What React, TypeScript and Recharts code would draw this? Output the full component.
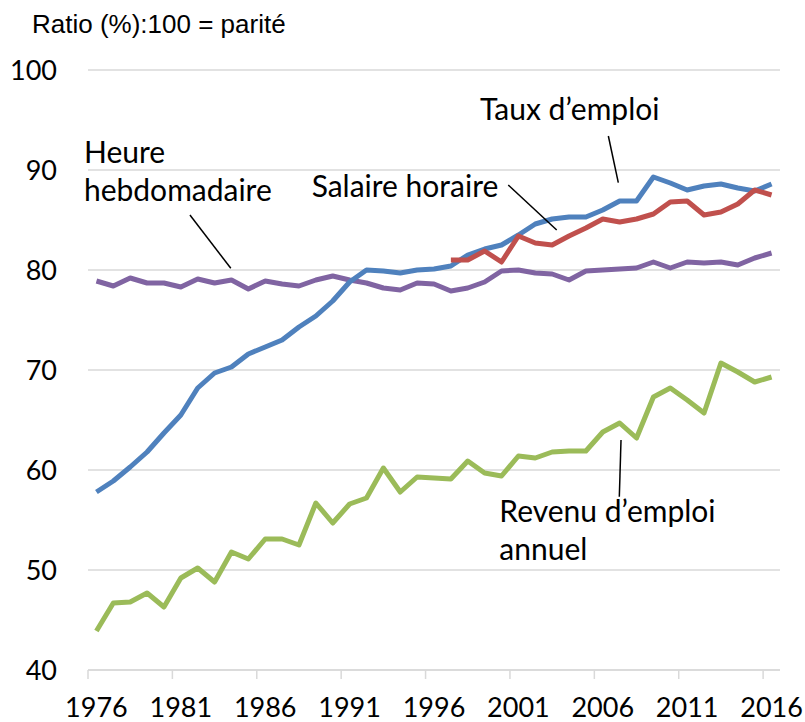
import { LineChart, Line, XAxis, YAxis, CartesianGrid, ReferenceLine, ReferenceDot } from "recharts";

const years = [
  1976, 1977, 1978, 1979, 1980, 1981, 1982, 1983, 1984, 1985, 1986, 1987, 1988, 1989,
  1990, 1991, 1992, 1993, 1994, 1995, 1996, 1997, 1998, 1999, 2000, 2001, 2002, 2003,
  2004, 2005, 2006, 2007, 2008, 2009, 2010, 2011, 2012, 2013, 2014, 2015, 2016,
];

const tauxEmploi = [
  57.8, 58.9, 60.3, 61.8, 63.7, 65.5, 68.2, 69.7, 70.3, 71.6, 72.3, 73.0,
  74.3, 75.4, 76.9, 78.8, 80.0, 79.9, 79.7, 80.0,
  80.1, 80.4, 81.5, 82.1, 82.5, 83.5, 84.6, 85.1, 85.3, 85.3, 86.0, 86.9, 86.9,
  89.3, 88.7, 88.0, 88.4, 88.6, 88.2, 87.9, 88.6,
];

const salaireHoraire = [
  null, null, null, null, null, null, null, null, null, null, null, null, null, null,
  null, null, null, null, null, null, null,
  81.0, 81.0, 81.9, 80.8, 83.4, 82.7, 82.5, 83.4, 84.2, 85.1, 84.8, 85.1, 85.6,
  86.8, 86.9, 85.5, 85.8, 86.6, 88.0, 87.5,
];

const heureHebdo = [
  78.9, 78.4, 79.2, 78.7, 78.7, 78.3, 79.1, 78.7, 79.0, 78.1, 78.9, 78.6, 78.4,
  79.0, 79.4, 79.0, 78.7, 78.2, 78.0, 78.7,
  78.6, 77.9, 78.2, 78.8, 79.9, 80.0, 79.7, 79.6, 79.0, 79.9, 80.0, 80.1, 80.2,
  80.8, 80.2, 80.8, 80.7, 80.8, 80.5, 81.2, 81.7,
];

const revenuEmploi = [
  43.9, 46.7, 46.8, 47.7, 46.3, 49.2, 50.2, 48.8, 51.8, 51.1, 53.1, 53.1, 52.5,
  56.7, 54.7, 56.6, 57.2, 60.2, 57.8, 59.3,
  59.2, 59.1, 60.9, 59.7, 59.4, 61.4, 61.2, 61.8, 61.9, 61.9, 63.8, 64.7, 63.2,
  67.3, 68.2, 67.0, 65.7, 70.7, 69.8, 68.8, 69.3,
];

const xTicks = [1976, 1981, 1986, 1991, 1996, 2001, 2006, 2011, 2016];
const yTicks = [40, 50, 60, 70, 80, 90, 100];

// annotation text: left x and first baseline y, in data units
const annotations = [
  { x: 1975.26, y: 90.7, lines: ["Heure", "hebdomadaire"] },
  { x: 1988.75, y: 87.33, lines: ["Salaire horaire"] },
  { x: 1998.73, y: 95.0, lines: ["Taux d’emploi"] },
  { x: 1999.87, y: 54.83, lines: ["Revenu d’emploi", "annuel"] },
];

const leaders = [
  [{ x: 1981.54, y: 85.5 }, { x: 1983.96, y: 80.17 }],
  [{ x: 2000.4, y: 88.5 }, { x: 2003.27, y: 84.0 }],
  [{ x: 2006.33, y: 93.4 }, { x: 2006.92, y: 88.73 }],
  [{ x: 2007.08, y: 63.0 }, { x: 2006.98, y: 57.33 }],
];

const data = years.map((year, i) => ({
  year,
  taux: tauxEmploi[i],
  salaire: salaireHoraire[i],
  heure: heureHebdo[i],
  revenu: revenuEmploi[i],
}));

const FONT = "Lato, 'Open Sans', sans-serif";
const GRID = "#D9D9D9";
const PLOT_W = 692;
const HALF_BAND = PLOT_W / years.length / 2;

function XTick(props: any) {
  const { x, y, payload } = props;
  return (
    <g>
      <line x1={x - HALF_BAND} x2={x - HALF_BAND} y1={y} y2={y + 9} stroke={GRID} strokeWidth={1.5} />
      <text x={x} y={y + 47} textAnchor="middle" fontFamily={FONT} fontSize={27} fill="#000">
        {payload.value}
      </text>
    </g>
  );
}

function Note({ cx, cy, lines }: { cx?: number; cy?: number; lines: string[] }) {
  if (cx == null || cy == null) return null;
  return (
    <text x={cx} y={cy} fontFamily={FONT} fontSize={30} fill="#000">
      {lines.map((l, i) => (
        <tspan key={i} x={cx} dy={i === 0 ? 0 : 38}>
          {l}
        </tspan>
      ))}
    </text>
  );
}

export default function App() {
  return (
    <div style={{ position: "absolute", left: 0, top: 0, width: 805, height: 722, background: "#fff" }}>
      <div
        style={{
          position: "absolute",
          left: 32,
          top: 10,
          fontFamily: "'Liberation Sans', Arial, sans-serif",
          fontSize: 26,
          lineHeight: "28px",
          color: "#000",
        }}
      >
        Ratio (%):100 = parité
      </div>
      <LineChart width={805} height={722} data={data} margin={{ top: 70, right: 25, bottom: 0, left: 0 }}>
        <CartesianGrid vertical={false} stroke={GRID} strokeWidth={1.5} />
        <XAxis
          dataKey="year"
          type="number"
          domain={[1975.5, 2016.5]}
          ticks={xTicks}
          height={52}
          axisLine={{ stroke: GRID, strokeWidth: 1.5 }}
          tickLine={false}
          tickSize={0}
          tickMargin={0}
          tick={<XTick />}
          interval={0}
          allowDataOverflow
        />
        <YAxis
          type="number"
          domain={[40, 100]}
          ticks={yTicks}
          width={88}
          axisLine={false}
          tickLine={false}
          tickSize={0}
          tickMargin={31}
          interval={0}
          tick={{ fontFamily: FONT, fontSize: 27, fill: "#000" }}
        />
        <Line dataKey="heure" stroke="#8064A2" strokeWidth={5} dot={false} isAnimationActive={false} strokeLinejoin="round" />
        <Line dataKey="revenu" stroke="#9BBB59" strokeWidth={5} dot={false} isAnimationActive={false} strokeLinejoin="round" />
        <Line dataKey="taux" stroke="#4F81BD" strokeWidth={5} dot={false} isAnimationActive={false} strokeLinejoin="round" />
        <Line dataKey="salaire" stroke="#C0504D" strokeWidth={5} dot={false} isAnimationActive={false} strokeLinejoin="round" />
        {leaders.map((seg, i) => (
          <ReferenceLine key={`l${i}`} segment={seg} stroke="#000" strokeWidth={1.5} ifOverflow="visible" />
        ))}
        {annotations.map((a, i) => (
          <ReferenceDot
            key={`a${i}`}
            x={a.x}
            y={a.y}
            r={0}
            ifOverflow="visible"
            shape={(p: any) => <Note cx={p.cx} cy={p.cy} lines={a.lines} />}
          />
        ))}
      </LineChart>
    </div>
  );
}
